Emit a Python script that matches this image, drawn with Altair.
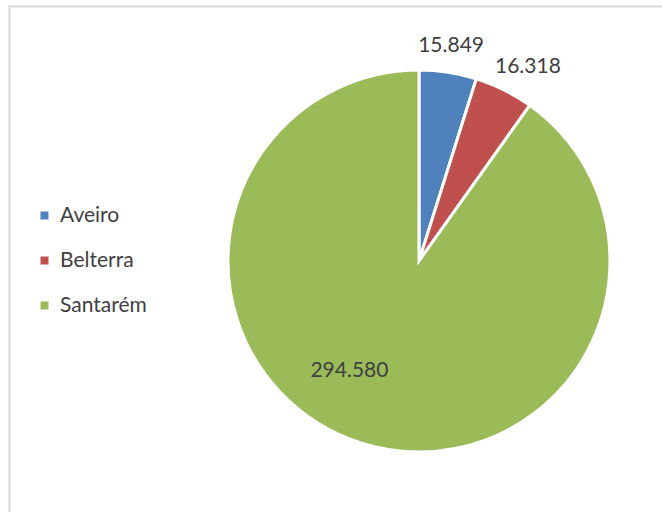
import altair as alt
import pandas as pd

municipios = ["Aveiro", "Belterra", "Santarém"]
valores = [15849, 16318, 294580]
rotulos = ["15.849", "16.318", "294.580"]
cores = ["#4F81BD", "#C0504D", "#9BBB59"]

df = pd.DataFrame({"Município": municipios, "valor": valores,
                   "rotulo": rotulos, "ordem": [0, 1, 2]})

CX, CY, R = 419, 261, 191
FONT = "Lato"
FS = 21

base = alt.Chart(df).encode(
    theta=alt.Theta("valor:Q", stack=True),
    order=alt.Order("ordem:Q"),
)

pie = base.mark_arc(outerRadius=R, stroke="white", strokeWidth=3).encode(
    x=alt.value(CX), y=alt.value(CY),
    color=alt.Color("Município:N", sort=municipios,
                    scale=alt.Scale(domain=municipios, range=cores),
                    legend=alt.Legend(title=None, orient="none", legendX=34, legendY=205,
                                      symbolType="square", symbolSize=64,
                                      symbolStrokeWidth=0,
                                      labelFont=FONT, labelFontSize=FS,
                                      labelColor="#404040", rowPadding=23,
                                      labelOffset=5)),
)


def label_layer(name, r, dx, dy):
    return alt.Chart(df).transform_joinaggregate(total="sum(valor)").transform_window(
        cum="sum(valor)", sort=[alt.SortField("ordem")]
    ).transform_calculate(
        start="datum.cum - datum.valor"
    ).transform_filter(alt.datum["Município"] == name).mark_text(
        radius=r, font=FONT, fontSize=FS, color="#404040",
        align="center", baseline="middle", dx=dx, dy=dy
    ).encode(
        x=alt.value(CX), y=alt.value(CY),
        theta=alt.Theta("mid:Q", scale=alt.Scale(domain=[0, 1], range=[0, 6.283185307])),
        text="rotulo:N",
    ).transform_calculate(mid="(datum.start + datum.valor / 2) / datum.total")


top_line = alt.Chart(df).mark_rule(color="#d9d9d9", strokeWidth=1.5).encode(
    x=alt.value(9), x2=alt.value(662), y=alt.value(6.5))
left_line = alt.Chart(df).mark_rule(color="#d9d9d9", strokeWidth=1.5).encode(
    x=alt.value(9.5), y=alt.value(6), y2=alt.value(512))

chart = alt.layer(
    top_line, left_line, pie,
    label_layer("Aveiro", 218, -1, 0),
    label_layer("Belterra", 222, 10, 5),
    label_layer("Santarém", 130, -30, -14),
).resolve_scale(theta="independent").properties(
    width=662, height=512, autosize=alt.AutoSizeParams(type="none"), padding=0,
    background="white",
).configure_view(stroke=None)

chart.save("out.html", embed_options={"renderer": "svg", "actions": False})
